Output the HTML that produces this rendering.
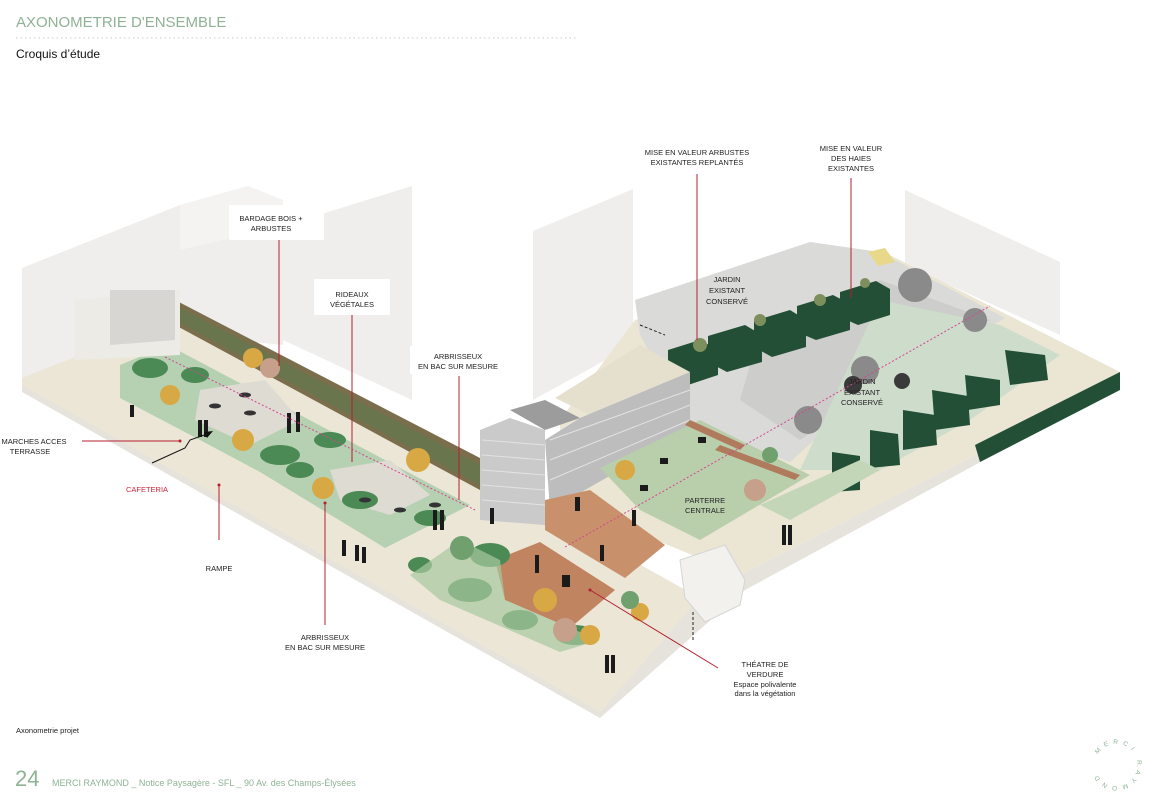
<!DOCTYPE html>
<html><head><meta charset="utf-8">
<style>
html,body{margin:0;padding:0;background:#fff;}
body{width:1160px;height:801px;position:relative;overflow:hidden;font-family:"Liberation Sans",sans-serif;}
</style></head>
<body>
<svg width="1160" height="801" viewBox="0 0 1160 801" xmlns="http://www.w3.org/2000/svg" style="position:absolute;left:0;top:0" font-family="Liberation Sans, sans-serif">
<text x="16" y="27" font-size="15" fill="#8fb295">AXONOMETRIE D'ENSEMBLE</text>
<line x1="16" y1="38" x2="576" y2="38" stroke="#c9c9c9" stroke-width="1" stroke-dasharray="1.5,3"/>
<text x="16" y="58" font-size="12" fill="#111">Croquis d’étude</text>

<g fill="#efeeec">
<polygon points="22,268 180,205 180,335 22,385"/>
<polygon points="180,205 248,186 283,200 283,345 180,335"/>
<polygon points="283,226 412,186 412,400 283,340"/>
<polygon points="533,231 633,189 633,345 533,400"/>
<polygon points="905,190 1060,262 1060,335 905,265"/>
</g>
<polygon points="180,205 248,186 283,200 283,226 180,250" fill="#f4f3f1"/>
<polygon points="22,378 175,318 490,480 600,560 700,600 740,575 975,455 1120,378 1120,388 975,465 745,590 705,625 600,718 22,392" fill="#e6e3dc"/>
<polygon points="22,378 175,318 490,480 560,520 700,598 600,712 22,385" fill="#ece6d6"/>
<polygon points="635,320 880,250 1120,372 975,455 740,575 560,500 560,420" fill="#ebe5d3"/>
<polygon points="635,300 810,242 880,252 1005,318 975,335 870,390 790,462 690,425 640,335" fill="#dadad8"/>
<polygon points="760,330 880,280 990,320 950,345 870,395 800,440 740,400" fill="#cdcdcb"/>
<polygon points="880,300 1000,325 1060,355 970,420 880,470 800,470" fill="#cddccb"/>
<g fill="#224f35">
<polygon points="668,350 700,340 718,350 718,375 688,385 668,375"/>
<polygon points="708,336 745,325 762,335 762,362 727,372 708,362"/>
<polygon points="754,321 790,310 806,320 806,347 772,357 754,347"/>
<polygon points="797,306 833,295 850,304 850,330 816,340 797,332"/>
<polygon points="840,292 876,281 890,289 890,315 858,325 840,317"/>
</g>
<g fill="#7d8f5c"><circle cx="700" cy="345" r="7"/><circle cx="760" cy="320" r="6"/><circle cx="820" cy="300" r="6"/><circle cx="865" cy="283" r="5"/></g>
<g fill="#224f35">
<polygon points="1005,350 1045,355 1048,380 1010,385"/>
<polygon points="965,375 1000,380 1000,405 968,410"/>
<polygon points="932,390 968,396 970,425 935,430"/>
<polygon points="903,410 935,415 937,445 903,450"/>
<polygon points="870,430 898,434 900,465 870,468"/>
<polygon points="832,452 860,456 860,490 832,492"/>
<polygon points="975,445 1120,372 1120,390 980,462"/>
</g>
<g fill="#8a8a8a"><circle cx="915" cy="285" r="17"/><circle cx="865" cy="370" r="14"/><circle cx="975" cy="320" r="12"/><circle cx="808" cy="420" r="14"/></g>
<g fill="#3a3a3a"><circle cx="853" cy="385" r="9"/><circle cx="902" cy="381" r="8"/></g>
<polygon points="868,252 885,248 895,262 878,266" fill="#e8d98a"/>

<polygon points="555,398 640,345 690,372 605,422" fill="#e5dfce"/>
<polygon points="580,418 690,372 690,430 550,510 545,440" fill="#bdbdbd"/>
<polygon points="480,430 510,418 545,430 545,525 480,520" fill="#cacaca"/>
<polygon points="510,410 545,400 580,418 545,430" fill="#9c9c9c"/>
<g stroke="#e2e2e2" stroke-width="1">
<line x1="482" y1="440" x2="545" y2="445"/><line x1="482" y1="455" x2="545" y2="460"/><line x1="482" y1="470" x2="545" y2="475"/><line x1="482" y1="485" x2="545" y2="490"/><line x1="482" y1="500" x2="545" y2="505"/>
<line x1="550" y1="440" x2="690" y2="390"/><line x1="550" y1="460" x2="690" y2="405"/><line x1="550" y1="480" x2="690" y2="420"/>
</g>

<polygon points="600,468 700,420 810,475 700,540 640,510" fill="#b9cfac"/>
<polygon points="760,505 860,460 880,470 790,520" fill="#c3d6b8"/>
<g fill="#b07a5d"><polygon points="690,420 745,445 740,450 685,425"/><polygon points="720,445 800,475 795,480 715,450"/></g>

<polygon points="545,500 590,490 665,545 625,578 545,530" fill="#c8916c"/>
<polygon points="495,560 540,542 615,590 570,628 505,600" fill="#c08461"/>
<polygon points="680,560 725,545 745,580 740,605 705,622 685,598" fill="#f2f1ee" stroke="#d5d5d5"/>

<polygon points="175,300 480,458 480,490 175,325" fill="#7a6e4d"/>
<polygon points="175,305 480,465 480,485 175,320" fill="#5c7a4f" opacity=".6"/>
<polygon points="120,365 168,345 470,505 385,548 260,472 200,440 120,398" fill="#b6d0b2"/>
<polygon points="200,390 265,380 300,420 250,445 195,420" fill="#dedbd3"/>
<polygon points="330,470 390,460 430,495 390,515 340,500" fill="#dedbd3"/>
<polygon points="75,300 180,290 180,355 75,360" fill="#ecebe6"/>
<polygon points="110,290 175,290 175,340 110,345" fill="#d8d6d2"/>
<g fill="#4b8a55">
<ellipse cx="150" cy="368" rx="18" ry="10"/><ellipse cx="195" cy="375" rx="14" ry="8"/><ellipse cx="280" cy="455" rx="20" ry="10"/>
<ellipse cx="300" cy="470" rx="14" ry="8"/><ellipse cx="330" cy="440" rx="16" ry="8"/><ellipse cx="360" cy="500" rx="18" ry="9"/>
<ellipse cx="430" cy="518" rx="16" ry="8"/><ellipse cx="490" cy="555" rx="20" ry="12"/><ellipse cx="470" cy="590" rx="22" ry="12"/>
<ellipse cx="520" cy="620" rx="18" ry="10"/><ellipse cx="575" cy="635" rx="20" ry="10"/><ellipse cx="420" cy="565" rx="12" ry="8"/>
</g>
<polygon points="410,575 460,540 500,560 505,600 570,628 600,640 560,652 440,600" fill="#a8c79f" opacity=".7"/>
<g fill="#d8a844"><circle cx="170" cy="395" r="10"/><circle cx="243" cy="440" r="11"/><circle cx="323" cy="488" r="11"/><circle cx="253" cy="358" r="10"/><circle cx="625" cy="470" r="10"/><circle cx="545" cy="600" r="12"/><circle cx="590" cy="635" r="10"/><circle cx="640" cy="612" r="9"/><circle cx="418" cy="460" r="12"/></g>
<g fill="#c6a08a"><circle cx="270" cy="368" r="10"/><circle cx="565" cy="630" r="12"/><circle cx="755" cy="490" r="11"/></g>
<g fill="#6fa06e"><circle cx="462" cy="548" r="12"/><circle cx="770" cy="455" r="8"/><circle cx="630" cy="600" r="9"/></g>
<g fill="#333"><ellipse cx="215" cy="406" rx="6" ry="2.5"/><ellipse cx="245" cy="395" rx="6" ry="2.5"/><ellipse cx="250" cy="413" rx="6" ry="2.5"/><ellipse cx="365" cy="500" rx="6" ry="2.5"/><ellipse cx="400" cy="510" rx="6" ry="2.5"/><ellipse cx="435" cy="505" rx="6" ry="2.5"/></g>
<g fill="#1b1b1b">
<rect x="130" y="405" width="4" height="12"/><rect x="198" y="420" width="4" height="17"/><rect x="204" y="420" width="4" height="17"/>
<rect x="287" y="413" width="4" height="20"/><rect x="296" y="412" width="4" height="20"/><rect x="433" y="510" width="4" height="20"/><rect x="440" y="510" width="4" height="20"/>
<rect x="342" y="540" width="4" height="16"/><rect x="355" y="545" width="4" height="16"/><rect x="362" y="547" width="4" height="16"/>
<rect x="490" y="508" width="4" height="16"/><rect x="575" y="497" width="5" height="14"/><rect x="600" y="545" width="4" height="16"/>
<rect x="632" y="510" width="4" height="16"/><rect x="535" y="555" width="4" height="18"/><rect x="562" y="575" width="8" height="12"/>
<rect x="605" y="655" width="4" height="18"/><rect x="611" y="655" width="4" height="18"/><rect x="782" y="525" width="4" height="20"/><rect x="788" y="525" width="4" height="20"/>
<rect x="660" y="458" width="8" height="6"/><rect x="640" y="485" width="8" height="6"/><rect x="698" y="437" width="8" height="6"/>
</g>
<g stroke="#d4478f" stroke-width="1" stroke-dasharray="2,2" fill="none">
<line x1="165" y1="357" x2="475" y2="510"/><line x1="565" y1="547" x2="990" y2="306"/>
</g>
<g stroke="#222" stroke-width="1" stroke-dasharray="3,2" fill="none"><line x1="640" y1="325" x2="665" y2="335"/><line x1="693" y1="612" x2="693" y2="640"/></g>

<g fill="#fff">
<rect x="229" y="205" width="95" height="35"/><rect x="314" y="279" width="76" height="36"/><rect x="410" y="346" width="96" height="28"/>
</g>
<g stroke="#b3202f" stroke-width="1">
<line x1="279" y1="240" x2="279" y2="366"/><line x1="352" y1="315" x2="352" y2="462"/><line x1="459" y1="376" x2="459" y2="500"/>
<line x1="697" y1="174" x2="697" y2="340"/><line x1="851" y1="178" x2="851" y2="298"/>
<line x1="82" y1="441" x2="180" y2="441"/><line x1="219" y1="485" x2="219" y2="540"/><line x1="325" y1="503" x2="325" y2="625"/>
<line x1="590" y1="590" x2="718" y2="668"/>
</g>
<g fill="#b3202f"><circle cx="180" cy="441" r="1.5"/><circle cx="219" cy="485" r="1.5"/><circle cx="325" cy="503" r="1.5"/><circle cx="590" cy="590" r="1.5"/></g>
<path d="M152,463 L185,448 L190,440 L210,433" stroke="#111" stroke-width="1" fill="none"/>
<polygon points="213,431 204,432 207,438" fill="#111"/>

<g font-size="7.5" fill="#222" text-anchor="middle">
<text x="697" y="155">MISE EN VALEUR ARBUSTES</text><text x="697" y="165">EXISTANTES REPLANTÉS</text>
<text x="851" y="151">MISE EN VALEUR</text><text x="851" y="161">DES HAIES</text><text x="851" y="171">EXISTANTES</text>
<text x="271" y="221">BARDAGE BOIS +</text><text x="271" y="231">ARBUSTES</text>
<text x="352" y="297">RIDEAUX</text><text x="352" y="307">VÉGÉTALES</text>
<text x="458" y="359">ARBRISSEUX</text><text x="458" y="369">EN BAC SUR MESURE</text>
<text x="34" y="444">MARCHES ACCES</text><text x="30" y="454">TERRASSE</text>
<text x="219" y="571">RAMPE</text>
<text x="325" y="640">ARBRISSEUX</text><text x="325" y="650">EN BAC SUR MESURE</text>
<text x="727" y="282">JARDIN</text><text x="727" y="293">EXISTANT</text><text x="727" y="304">CONSERVÉ</text>
<text x="862" y="384">JARDIN</text><text x="862" y="395">EXISTANT</text><text x="862" y="405">CONSERVÉ</text>
<text x="705" y="503">PARTERRE</text><text x="705" y="513">CENTRALE</text>
<text x="765" y="667">THÉATRE DE</text><text x="765" y="677">VERDURE</text>
<text x="765" y="687">Espace polivalente</text><text x="765" y="696">dans la végétation</text>
</g>
<text x="147" y="492" font-size="7.5" fill="#c9283e" text-anchor="middle">CAFETERIA</text>

<text x="16" y="733" font-size="7.5" fill="#222">Axonometrie projet</text>
<text x="15" y="786" font-size="22" fill="#8fb295">24</text>
<text x="52" y="786" font-size="9" fill="#8fb295">MERCI RAYMOND _ Notice Paysagère  - SFL _ 90 Av. des Champs-Élysées</text>
<defs><path id="lc" d="M1098,754.5 a21,21 0 1,1 36.4,21 a21,21 0 1,1 -36.4,-21"/></defs>
<text font-size="6.5" fill="#8fb295" letter-spacing="4.5"><textPath href="#lc">MERCI RAYMOND</textPath></text>
</svg>
</body></html>
